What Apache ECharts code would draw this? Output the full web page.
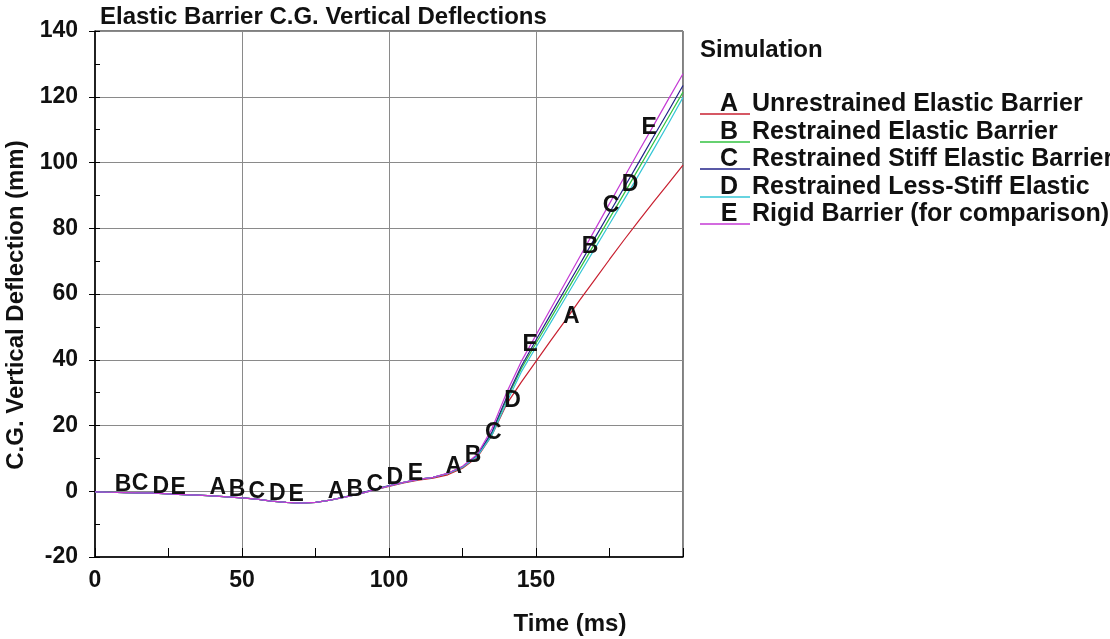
<!DOCTYPE html>
<html>
<head>
<meta charset="utf-8">
<script src="https://cdn.jsdelivr.net/npm/echarts@6/dist/echarts.min.js"></script>
<style>
html,body{margin:0;padding:0;background:#fff;}
#chart{width:1110px;height:639px;}
</style>
</head>
<body>
<div id="chart"></div>
<script>
// ---- data ----
const times = [0,5,10,15,20,25,30,35,40,45,50,55,60,65,70,75,80,85,90,95,100,105,110,115,120,125,130,135,140,145,150,155,160,165,170,175,180,185,190,195,200];

const seriesA = [-0.2,-0.3,-0.4,-0.5,-0.6,-0.8,-1.0,-1.2,-1.4,-1.7,-2.0,-2.4,-3.0,-3.4,-3.6,-3.4,-2.7,-1.8,-0.8,0.4,1.5,2.5,3.4,4.0,5.0,7.0,10.3,17.0,26.5,33.2,39.5,45.8,52.0,58.3,64.4,70.5,76.5,82.3,88.0,93.6,99.2];
const seriesB = [-0.2,-0.3,-0.4,-0.5,-0.6,-0.8,-1.0,-1.2,-1.4,-1.7,-2.0,-2.4,-3.0,-3.4,-3.6,-3.4,-2.7,-1.8,-0.8,0.4,1.6,2.7,3.6,4.2,5.4,7.4,10.8,17.5,28.0,37.3,45.0,52.6,60.2,67.8,75.4,83.0,90.6,98.3,106.0,113.7,121.4];
const seriesC = [-0.2,-0.3,-0.4,-0.5,-0.6,-0.8,-1.0,-1.2,-1.4,-1.7,-2.0,-2.4,-3.0,-3.4,-3.6,-3.4,-2.7,-1.7,-0.6,0.6,1.7,2.7,3.6,4.2,5.4,7.4,10.9,18.0,28.5,38.0,46.0,53.8,61.5,69.2,77.0,84.7,92.4,100.1,107.9,115.6,123.4];
const seriesD = [-0.2,-0.3,-0.4,-0.5,-0.6,-0.8,-1.0,-1.2,-1.4,-1.7,-2.0,-2.4,-3.0,-3.4,-3.6,-3.4,-2.7,-1.8,-0.8,0.4,1.6,2.7,3.6,4.2,5.4,7.3,10.6,17.0,27.0,36.3,43.8,51.3,58.8,66.3,73.8,81.3,88.8,96.3,104.0,111.8,119.8];
const seriesE = [-0.2,-0.3,-0.4,-0.5,-0.6,-0.8,-1.0,-1.2,-1.4,-1.7,-2.0,-2.4,-3.0,-3.4,-3.6,-3.4,-2.7,-1.8,-0.8,0.4,1.6,2.7,3.6,4.2,5.5,7.6,11.2,19.0,30.0,39.5,47.5,55.5,63.5,71.5,79.5,87.5,95.5,103.5,111.3,119.2,127.0];

// letter marks along each curve: [time, deflection]
const marksA = [[41.8,1.0],[82,-0.2],[122,7.4],[162,53]];
const marksB = [[9.5,2.0],[48.3,0.4],[88.4,0.4],[128.6,10.7],[168.4,74.3]];
const marksC = [[15.3,2.3],[55,-0.2],[95.2,1.9],[135.5,17.7],[175.5,87]];
const marksD = [[22.4,1.5],[62,-0.8],[102,4.0],[142,27.5],[182,93.4]];
const marksE = [[28.3,1.0],[68.4,-1.1],[109,5.3],[148,44.5],[188.5,110.7]];

const letters = ['A','B','C','D','E'];
const names = ['Unrestrained Elastic Barrier','Restrained Elastic Barrier','Restrained Stiff Elastic Barrier','Restrained Less-Stiff Elastic','Rigid Barrier (for comparison)'];
const yTicks = [-20,0,20,40,60,80,100,120,140];

// ---- styling ----
const colors = ['#c82030','#33c240','#222288','#35c6d6','#c43ad4'];
const FONT = '"Liberation Sans", Arial, sans-serif';
const txt = {fontFamily: FONT, fontWeight: 'bold', color: '#111'};

const values = [seriesA, seriesB, seriesC, seriesD, seriesE];
const marks = [marksA, marksB, marksC, marksD, marksE];

const series = [];
values.forEach((vals, i) => {
  series.push({
    name: names[i], type: 'line', data: times.map((t, k) => [t, vals[k]]),
    showSymbol: false, smooth: false, z: 2 + i,
    lineStyle: {color: colors[i], width: 1.2}, itemStyle: {color: colors[i]}
  });
});
marks.forEach((m, i) => {
  series.push({
    type: 'scatter', data: m, symbolSize: 1, z: 10,
    itemStyle: {color: 'rgba(0,0,0,0)', opacity: 1},
    label: {show: true, position: 'inside', formatter: letters[i], fontSize: 23, ...txt, textBorderWidth: 0}
  });
});

const rowY = [104, 132, 159, 187, 214];
const graphic = [{type: 'text', left: 700, top: 38, style: {text: 'Simulation', font: 'bold 24px ' + FONT, fill: '#111'}}];
letters.forEach((L, i) => {
  graphic.push({type: 'line', shape: {x1: 700, y1: rowY[i] + 10, x2: 750, y2: rowY[i] + 10}, style: {stroke: colors[i], lineWidth: 1.3}});
  graphic.push({type: 'text', x: 729, y: rowY[i], style: {text: L, font: 'bold 25px ' + FONT, fill: '#111', textAlign: 'center', textVerticalAlign: 'middle'}});
  graphic.push({type: 'text', x: 752, y: rowY[i], style: {text: names[i], font: 'bold 25px ' + FONT, fill: '#111', textAlign: 'left', textVerticalAlign: 'middle'}});
});

const chart = echarts.init(document.getElementById('chart'), null, {renderer: 'canvas'});
chart.setOption({
  animation: false,
  backgroundColor: '#fff',
  title: {text: 'Elastic Barrier C.G. Vertical Deflections', left: 95, top: 0, textStyle: {...txt, fontSize: 24}},
  grid: {left: 95, right: 427, top: 31, bottom: 82, show: true, borderColor: '#000', borderWidth: 1,
         containLabel: false, outerBoundsMode: 'none'},
  xAxis: {
    type: 'value', min: 0, max: 200, interval: 50,
    axisLine: {show: true, onZero: false, lineStyle: {color: '#000', width: 1.5}},
    axisTick: {show: true, inside: true, length: 9, lineStyle: {color: '#000'}},
    minorTick: {show: true, splitNumber: 2, length: 9, lineStyle: {color: '#000'}},
    splitLine: {show: true, lineStyle: {color: '#8a8a8a', width: 1}},
    axisLabel: {fontSize: 23, margin: 12, showMaxLabel: false, ...txt},
    name: 'Time (ms)', nameLocation: 'middle', nameGap: 55,
    nameTextStyle: {fontSize: 24, ...txt, padding: [0, 0, 0, 362]}
  },
  yAxis: [{
    type: 'value', min: -20, max: 140, interval: 20,
    axisLine: {show: true, onZero: false, lineStyle: {color: '#000', width: 1.5}},
    axisTick: {show: true, inside: true, length: 5, lineStyle: {color: '#000'}},
    minorTick: {show: true, splitNumber: 2, length: 5, lineStyle: {color: '#000'}},
    splitLine: {show: true, lineStyle: {color: '#8a8a8a', width: 1}},
    axisLabel: {fontSize: 23, margin: 17, ...txt, formatter: v => yTicks.includes(v) ? String(v) : ''},
    name: 'C.G. Vertical Deflection (mm)', nameLocation: 'middle', nameGap: 65,
    nameTextStyle: {fontSize: 24, ...txt, padding: [0, 22, 0, 0]}
  }, {
    type: 'value', min: -20, max: 140, interval: 20, position: 'left',
    axisLine: {show: false}, axisLabel: {show: false}, splitLine: {show: false},
    axisTick: {show: true, inside: false, length: 6, lineStyle: {color: '#000'}}
  }],
  series: series,
  graphic: graphic
});
</script>
</body>
</html>
